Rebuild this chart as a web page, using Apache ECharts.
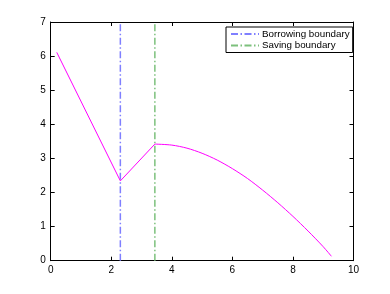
<!DOCTYPE html>
<html>
<head>
<meta charset="utf-8">
<script src="https://cdn.jsdelivr.net/npm/echarts@6/dist/echarts.min.js"></script>
<style>
html,body{margin:0;padding:0;background:#fff;}
#c{width:390px;height:294px;}
</style>
</head>
<body>
<div id="c"></div>
<script>
// Data
const kinkX = [0.2, 2.30, 3.44];
const kinkY = [6.11, 2.34, 3.42];
const fallX = [3.44, 4.0, 4.5, 5.0, 5.5, 6.0, 6.5, 7.0, 7.5, 8.0, 8.5, 9.0, 9.27];
const fallY = [3.42, 3.39, 3.30, 3.15, 2.95, 2.70, 2.41, 2.07, 1.70, 1.30, 0.87, 0.41, 0.13];
const borrowingX = 2.30;
const savingX = 3.44;
const yRange = [0, 7];
const xTicks = [0, 2, 4, 6, 8, 10];
const yTicks = [0, 1, 2, 3, 4, 5, 6, 7];
const seriesNames = ['Borrowing boundary', 'Saving boundary'];

const kink = kinkX.map((x, i) => [x, kinkY[i]]);
const fall = fallX.map((x, i) => [x, fallY[i]]);
const chart = echarts.init(document.getElementById('c'), null, {renderer: 'canvas'});
const font = 'Liberation Sans, Arial, Helvetica, sans-serif';
const axisCommon = {
  axisLine: {show: true, onZero: false, lineStyle: {color: '#000', width: 1}},
  axisTick: {show: true, inside: true, length: 4, lineStyle: {color: '#000'}},
  splitLine: {show: false}
};
const dashDot = [7, 2.5, 1.5, 2.5];
chart.setOption({
  animation: false,
  backgroundColor: '#fff',
  grid: {left: 50.7, right: 36.5, top: 22, bottom: 33.3},
  legend: {
    data: seriesNames.map(n => ({name: n, itemStyle: {opacity: 0}})),
    orient: 'vertical',
    left: 226, top: 27,
    backgroundColor: '#fff',
    borderColor: '#000', borderWidth: 1, borderRadius: 0,
    padding: [2, 3, 2, 4],
    itemWidth: 28, itemHeight: 10, itemGap: 1.5,
    textStyle: {fontFamily: font, fontSize: 9.8, color: '#000', padding: [0, 0, 0, -2]}
  },
  xAxis: [
    Object.assign({type: 'value', min: xTicks[0], max: xTicks[xTicks.length - 1], interval: 2, position: 'bottom',
      axisLabel: {fontFamily: font, fontSize: 10, color: '#000', margin: 5}}, axisCommon),
    Object.assign({type: 'value', min: xTicks[0], max: xTicks[xTicks.length - 1], interval: 2, position: 'top',
      axisLabel: {show: false}}, axisCommon)
  ],
  yAxis: [
    Object.assign({type: 'value', min: yRange[0], max: yRange[1], interval: 1, position: 'left',
      axisLabel: {fontFamily: font, fontSize: 10, color: '#000', margin: 5}}, axisCommon),
    Object.assign({type: 'value', min: yRange[0], max: yRange[1], interval: 1, position: 'right',
      axisLabel: {show: false}}, axisCommon)
  ],
  series: [
    {
      type: 'line', name: 'curveA', data: kink, showSymbol: false, symbol: 'none',
      lineStyle: {color: '#ff00ff', width: 1}, itemStyle: {color: '#ff00ff'}, z: 3
    },
    {
      type: 'line', name: 'curveB', data: fall, showSymbol: false, symbol: 'none', smooth: 0.3,
      lineStyle: {color: '#ff00ff', width: 1}, itemStyle: {color: '#ff00ff'}, z: 3
    },
    {
      type: 'line', name: seriesNames[0], data: [[borrowingX, yRange[0]], [borrowingX, yRange[1]]],
      symbol: 'none', showSymbol: false, color: '#7f7fff',
      lineStyle: {color: '#7f7fff', width: 1.5, type: dashDot}, z: 2
    },
    {
      type: 'line', name: seriesNames[1], data: [[savingX, yRange[0]], [savingX, yRange[1]]],
      symbol: 'none', showSymbol: false, color: '#7cc07c',
      lineStyle: {color: '#7cc07c', width: 1.5, type: dashDot}, z: 2
    }
  ]
});
</script>
</body>
</html>
